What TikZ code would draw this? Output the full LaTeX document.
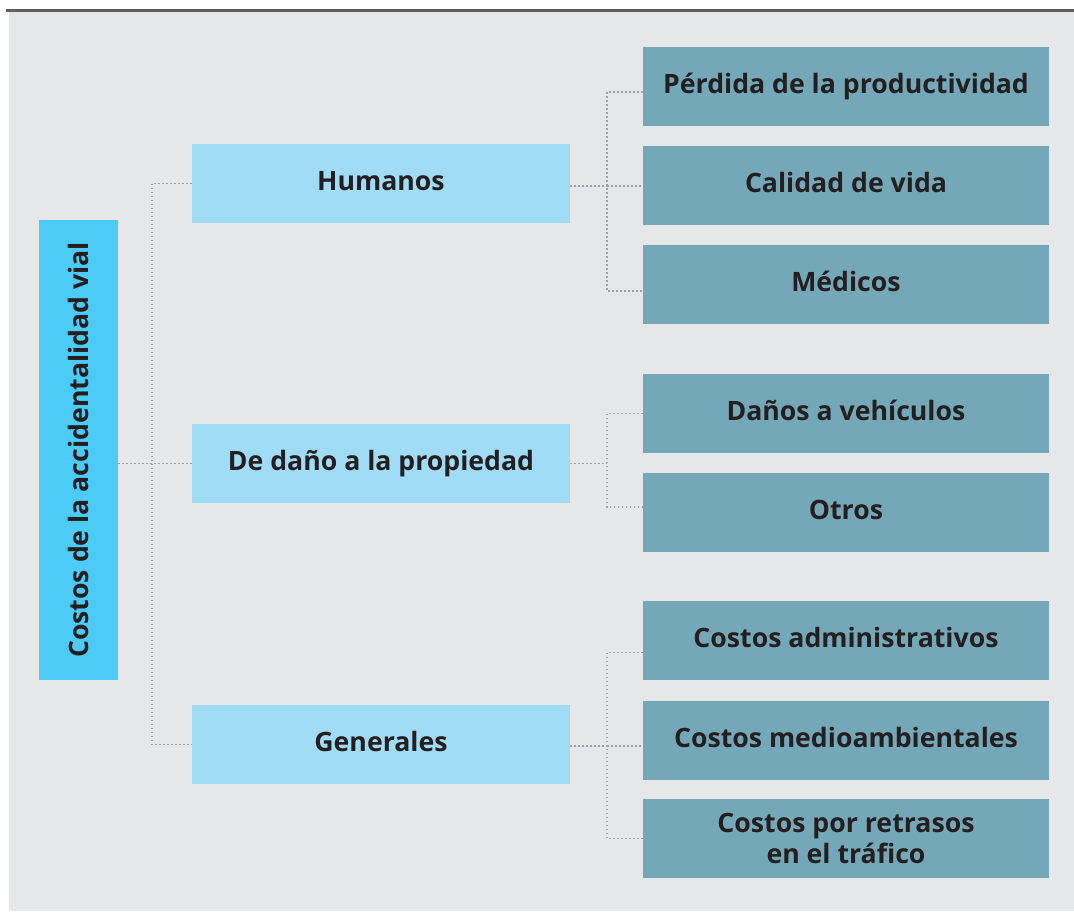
\documentclass[tikz,border=0pt]{standalone}
\usepackage{fontspec}
\setmainfont{Open Sans}
\definecolor{bgc}{HTML}{E6E7E8}
\definecolor{topline}{HTML}{5E5F61}
\definecolor{leftc}{HTML}{4CCBF6}
\definecolor{midc}{HTML}{A0DCF6}
\definecolor{rightc}{HTML}{74A8B8}
\definecolor{textc}{HTML}{231F20}
\definecolor{dotc}{HTML}{9D9FA2}
\def\u{0.75pt}
\tikzset{
  box/.style={rectangle, inner sep=0pt, text=textc, align=center,
    font=\bfseries\fontsize{20}{23.5}\selectfont},
  oneline/.style={text height=15pt, text depth=4.3pt},
  leftbox/.style={box, fill=leftc, minimum width=460*\u, minimum height=79*\u, rotate=90},
  midbox/.style={box, oneline, fill=midc, minimum width=378*\u, minimum height=79*\u},
  rightbox/.style={box, fill=rightc, minimum width=406*\u, minimum height=79*\u},
  dotline/.style={draw=dotc, line width=1.2pt, dash pattern=on 1.2pt off 1.8pt}
}
\begin{document}
\begin{tikzpicture}[x=\u, y=-\u]
\useasboundingbox (0,0) rectangle (1074,911);
\fill[bgc] (9,11) rectangle (1074,911);
\draw[topline, line width=2.25pt] (6,10) -- (1074,10);

\node[leftbox] (L) at (78.5,450) {Costos de la accidentalidad vial};

\node[midbox] (M1) at (381,183.5) {Humanos};
\node[midbox] (M2) at (381,463.5) {De daño a la propiedad};
\node[midbox] (M3) at (381,744.5) {Generales};

\node[rightbox, oneline] (R1) at (846,86.5) {Pérdida de la productividad};
\node[rightbox, oneline] (R2) at (846,185.5) {Calidad de vida};
\node[rightbox, oneline] (R3) at (846,284.5) {Médicos};
\node[rightbox, oneline] (R4) at (846,413.5) {Daños a vehículos};
\node[rightbox, oneline] (R5) at (846,512.5) {Otros};
\node[rightbox, oneline] (R6) at (846,640.5) {Costos administrativos};
\node[rightbox, oneline] (R7) at (846,740) {Costos medioambientales};
\node[rightbox] (R8) at (846,838.5) {Costos por retrasos\\en el tráfico};

\coordinate (tL) at (152,0);
\coordinate (tR) at (607,0);

% left trunk
\draw[dotline] (L.south |- M2.west) -- (M2.west);
\draw[dotline] (M1.west) -- (M1.west -| tL) -- (M3.west -| tL) -- (M3.west);

% Humanos group
\coordinate (h1) at ([yshift=-5.5*\u]R1.west);
\coordinate (h2) at ([yshift=-0.5*\u]R2.west);
\coordinate (h3) at ([yshift=-6.5*\u]R3.west);
\draw[dotline] ([yshift=-2.5*\u]M1.east) -- ([yshift=-2.5*\u]M1.east -| tR);
\draw[dotline] (h1) -- (h1 -| tR) -- (h3 -| tR) -- (h3);
\draw[dotline] (h2 -| tR) -- (h2);

% Propiedad group
\coordinate (d1) at (R4.west);
\coordinate (d2) at ([yshift=5.5*\u]R5.west);
\draw[dotline] (M2.east) -- (M2.east -| tR);
\draw[dotline] (d1) -- (d1 -| tR) -- (d2 -| tR) -- (d2);

% Generales group
\coordinate (g1) at ([yshift=-12*\u]R6.west);
\coordinate (g2) at ([yshift=-5.7*\u]R7.west);
\coordinate (g3) at (R8.west);
\draw[dotline] ([yshift=-1.2*\u]M3.east) -- ([yshift=-1.2*\u]M3.east -| tR);
\draw[dotline] (g1) -- (g1 -| tR) -- (g3 -| tR) -- (g3);
\draw[dotline] (g2 -| tR) -- (g2);
\end{tikzpicture}
\end{document}
